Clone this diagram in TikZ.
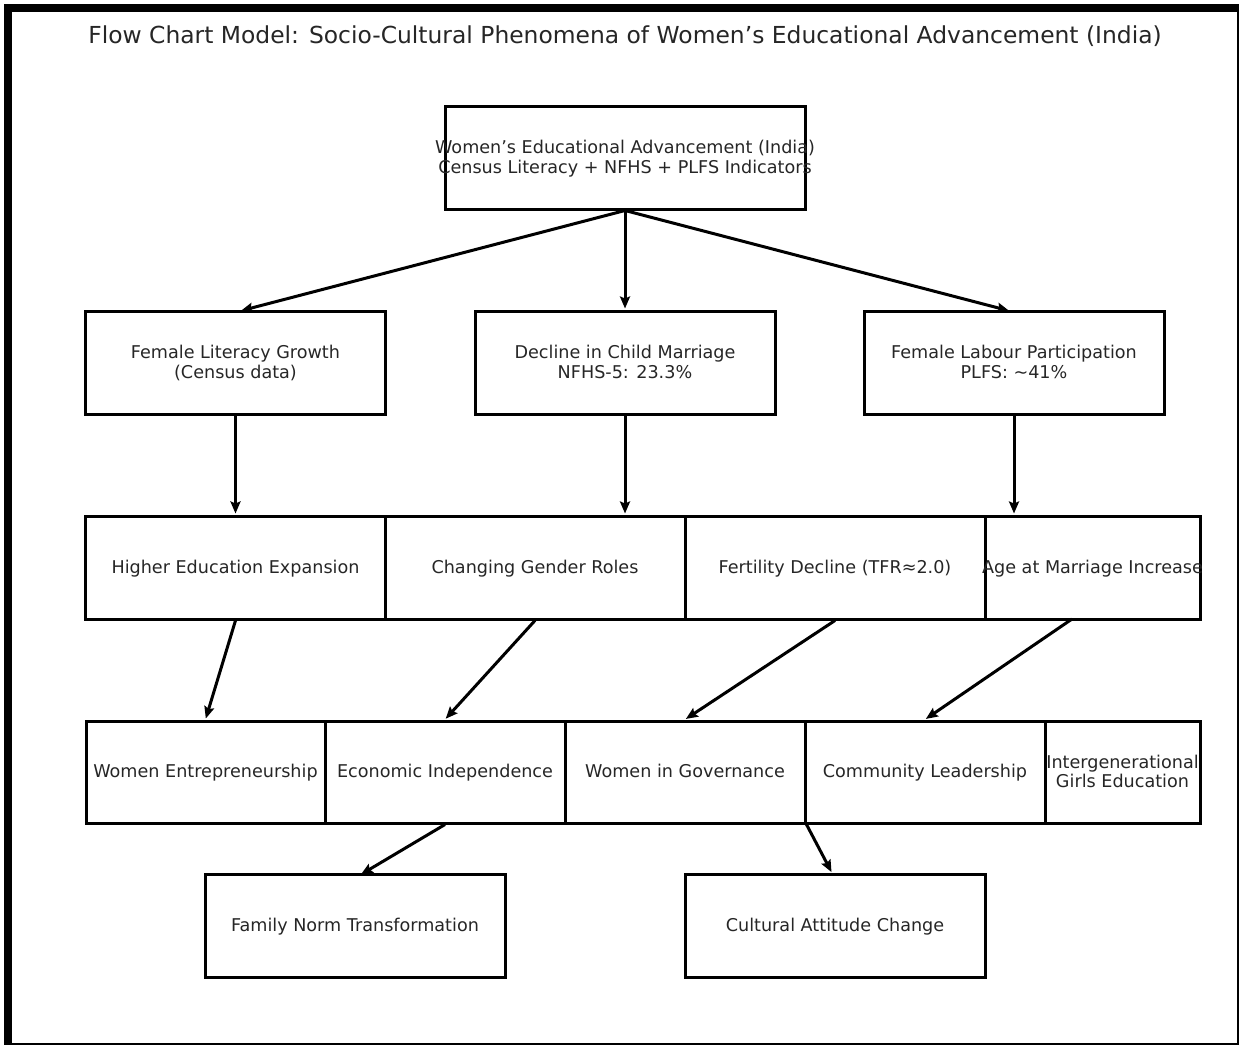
\documentclass[tikz,border=0pt]{standalone}
\usepackage{fontspec}
\setmainfont{DejaVu Sans}
\usetikzlibrary{arrows.meta,calc}
\newcommand{\boxfont}{\fontsize{17.6}{19.5}\selectfont}
\newcommand{\titlefont}{\fontsize{23.4}{27}\selectfont}
\newcommand{\mkln}[1]{\makebox[0pt][c]{\raisebox{-2pt}[\height][\depth]{\strut#1}}}
\begin{document}
\begin{tikzpicture}[x=1pt,y=-1pt,
  box/.style={draw, line width=3pt, inner sep=0pt, align=center, font=\boxfont, text=black!85},
  wA/.style={minimum width=360pt, minimum height=103pt},
  wB/.style={minimum width=300pt, minimum height=103pt},
  arr/.style={line width=3pt, -{Stealth[length=12pt,width=10pt,inset=2pt]}, shorten >=1pt}
]
\useasboundingbox (0,0) rectangle (1239,1044);
\draw[line width=8pt] (8,8) rectangle (1241,1047);
\node[font=\titlefont, text=black!85] (title) at (625,36) {Flow Chart Model: Socio-Cultural Phenomena of Women’s Educational Advancement (India)};

\node[box, wA] (top) at (625,157.5) {\mkln{Women’s Educational Advancement (India)}\\\mkln{Census Literacy + NFHS + PLFS Indicators}};

\node[box, wB] (fl) at (235.5,362.5) {\mkln{Female Literacy Growth}\\\mkln{(Census data)}};
\node[box, wB] (cm) at (625,362.5) {\mkln{Decline in Child Marriage}\\\mkln{NFHS-5: 23.3\%}};
\node[box, wB] (lp) at (1014,362.5) {\mkln{Female Labour Participation}\\\mkln{PLFS: \textasciitilde41\%}};

\node[box, wB] (he) at (235.5,567.5) {\mkln{Higher Education Expansion}};
\node[box, wB] (gr) at (535,567.5) {\mkln{Changing Gender Roles}};
\node[box, wB] (fd) at (835,567.5) {\mkln{Fertility Decline (TFR≈2.0)}};
\node[box, minimum width=215pt, minimum height=103pt] (am) at (1092.5,567.5) {\mkln{Age at Marriage Increase}};

\node[box, minimum width=239pt, minimum height=102pt] (we) at (205.5,772) {\mkln{Women Entrepreneurship}};
\node[box, minimum width=240pt, minimum height=102pt] (ei) at (445,772) {\mkln{Economic Independence}};
\node[box, minimum width=240pt, minimum height=102pt] (wg) at (685,772) {\mkln{Women in Governance}};
\node[box, minimum width=240pt, minimum height=102pt] (cl) at (925,772) {\mkln{Community Leadership}};
\node[box, minimum width=155pt, minimum height=102pt] (ig) at (1122.5,772) {\mkln{Intergenerational}\\\mkln{Girls Education}};

\node[box, wB] (fn) at (355,926) {\mkln{Family Norm Transformation}};
\node[box, wB] (ca) at (835,926) {\mkln{Cultural Attitude Change}};

\coordinate (flin) at (240,311);
\coordinate (lpin) at (1010,311);
\coordinate (amout) at (1072,619);
\coordinate (fnin) at (360,875);
\coordinate (cain) at (832,873);

\draw[arr] (top.south) -- (flin);
\draw[arr] (top.south) -- (cm.north);
\draw[arr] (top.south) -- (lpin);

\draw[arr] (fl.south) -- (fl.south |- he.north);
\draw[arr] (cm.south) -- (cm.south |- gr.north);
\draw[arr] (lp.south) -- (lp.south |- am.north);

\draw[arr] (he.south) -- (we.north);
\draw[arr] (gr.south) -- (ei.north);
\draw[arr] (fd.south) -- (wg.north);
\draw[arr] (amout) -- (cl.north);

\draw[arr] (ei.south) -- (fnin);
\draw[arr] (wg.south east) -- (cain);
\end{tikzpicture}
\end{document}
